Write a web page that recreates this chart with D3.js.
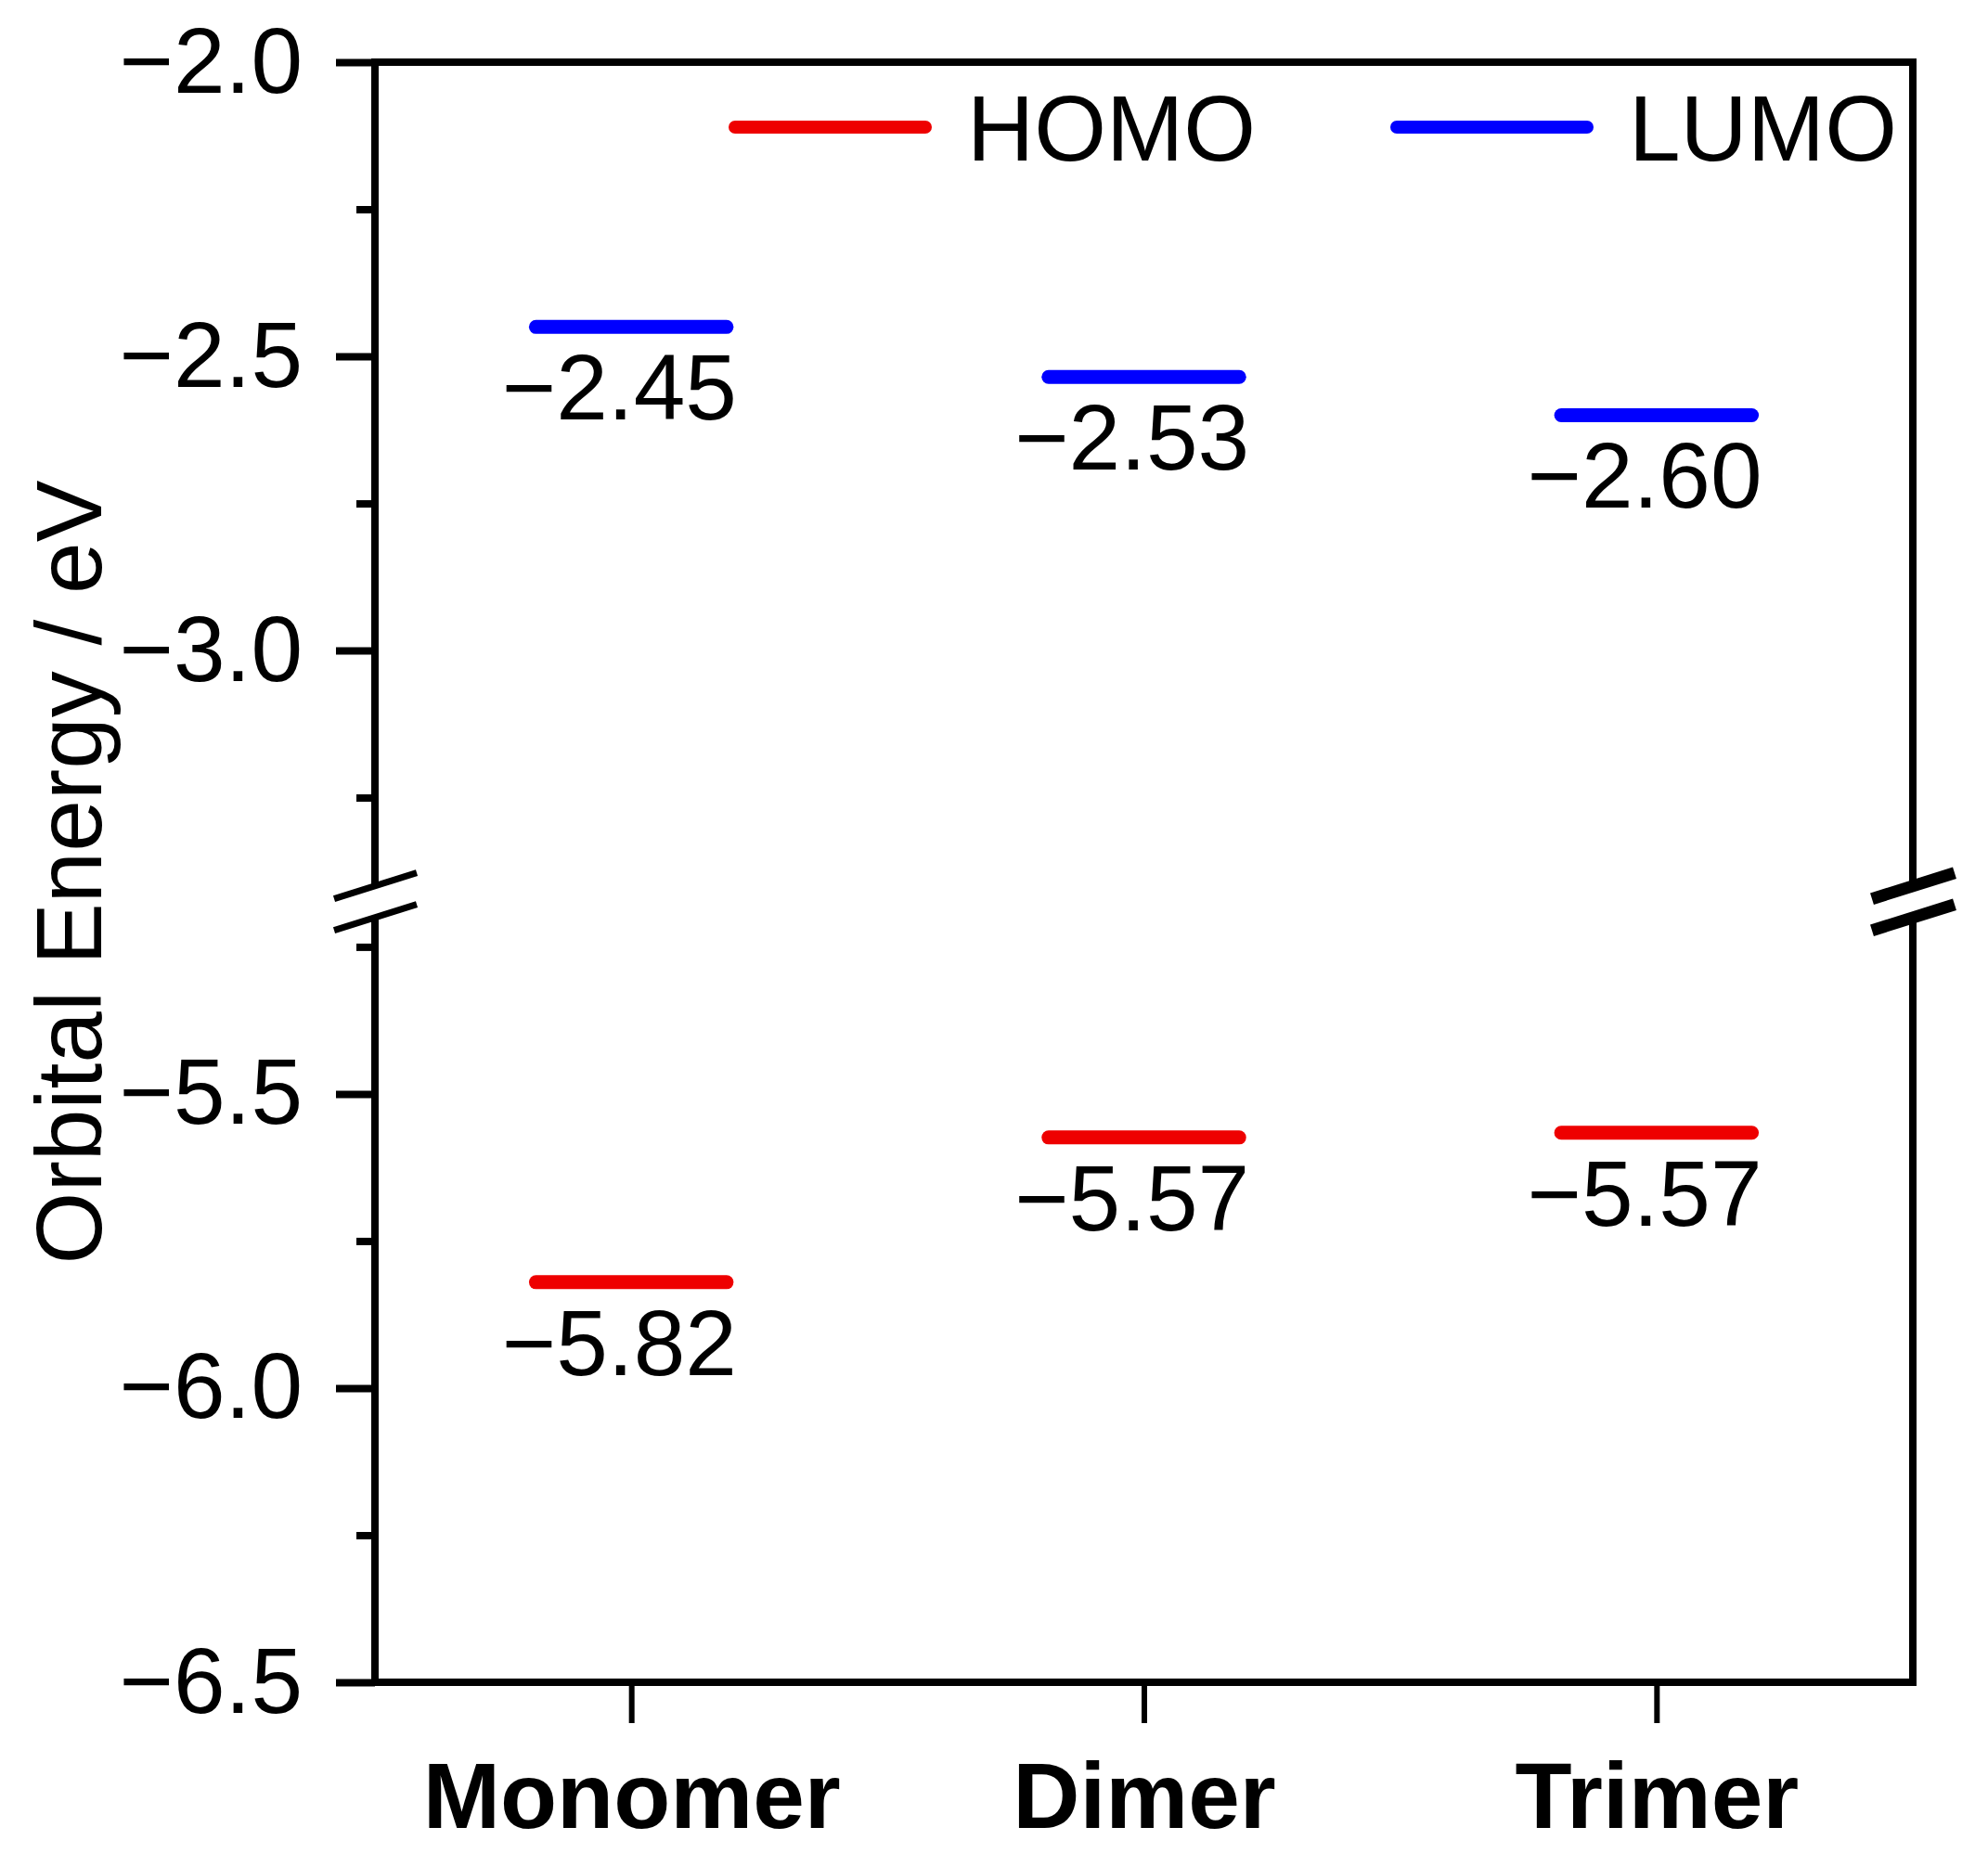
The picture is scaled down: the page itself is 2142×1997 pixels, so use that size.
<!DOCTYPE html>
<html><head><meta charset="utf-8">
<script src="https://cdn.jsdelivr.net/npm/d3@7"></script>
<style>
body{margin:0;background:#fff}
svg{display:block}
text{font-family:"Liberation Sans",Arial,Helvetica,sans-serif}
</style>
</head><body>
<svg id="chart" width="2142" height="1997"></svg>
<script>
// ---- data ----
const categories = ["Monomer", "Dimer", "Trimer"];
const homo = [-5.82, -5.574, -5.566];
const lumo = [-2.45, -2.535, -2.60];
const homoLabels = ["−5.82", "−5.57", "−5.57"];
const lumoLabels = ["−2.45", "−2.53", "−2.60"];
const seriesNames = ["HOMO", "LUMO"];
const seriesColors = ["#ee0000", "#0000ff"];
const upperDomain = [-3.4, -2.0];
const lowerDomain = [-6.5, -5.2];
const upperMajor = [-2.0, -2.5, -3.0];
const upperMinor = [-2.25, -2.75, -3.25];
const lowerMajor = [-5.5, -6.0, -6.5];
const lowerMinor = [-5.25, -5.75, -6.25];
const yTitle = "Orbital Energy / eV";

// ---- layout ----
const W = 2142, H = 1997;
const pLeft = 404, pRight = 2061, pTop = 67, pBottom = 1813, gap = 34;
const span = (upperDomain[1] - upperDomain[0]) + (lowerDomain[1] - lowerDomain[0]);
const unit = (pBottom - pTop - gap) / span;
const yU = d3.scaleLinear().domain(upperDomain).range([pTop + (upperDomain[1] - upperDomain[0]) * unit, pTop]);
const yL = d3.scaleLinear().domain(lowerDomain).range([pBottom, pBottom - (lowerDomain[1] - lowerDomain[0]) * unit]);
const y = v => v >= upperDomain[0] ? yU(v) : yL(v);
const x = d3.scalePoint().domain(categories).range([pLeft, pRight]).padding(0.5);
const step = x.step();
const halfLen = step * 0.186;

const svg = d3.select("#chart");
svg.append("rect").attr("width", W).attr("height", H).attr("fill", "#fff");

const fmt = d3.format(".1f");
const FS = 100;

function styleAxis(g, sw) {
  g.select(".domain").remove();
  g.selectAll(".tick line").attr("stroke", "#000").attr("stroke-width", sw);
  g.attr("font-family", null).attr("font-size", FS);
  g.selectAll(".tick text").attr("fill", "#000");
}

// y axes (major + minor), upper & lower segments
[[yU, upperMajor, upperMinor], [yL, lowerMajor, lowerMinor]].forEach(([sc, maj, mnr]) => {
  svg.append("g").attr("transform", `translate(${pLeft},0)`)
    .call(d3.axisLeft(sc).tickValues(mnr).tickSize(20).tickFormat(""))
    .call(g => styleAxis(g, 8));
  svg.append("g").attr("transform", `translate(${pLeft},0)`)
    .call(d3.axisLeft(sc).tickValues(maj).tickSize(42).tickPadding(36).tickFormat(fmt))
    .call(g => styleAxis(g, 8));
});

// x axis
svg.append("g").attr("transform", `translate(0,${pBottom})`)
  .call(d3.axisBottom(x).tickSize(44).tickPadding(42))
  .call(g => styleAxis(g, 6))
  .call(g => g.selectAll(".tick text").attr("font-weight", "bold"));

// frame with breaks
const yBrU = yU(upperDomain[0]), yBrL = yL(lowerDomain[1]);
const frame = svg.append("g").attr("fill", "none").attr("stroke", "#000").attr("stroke-width", 8).attr("stroke-linecap", "square");
frame.append("line").attr("x1", pLeft).attr("x2", pRight).attr("y1", pTop).attr("y2", pTop);
frame.append("line").attr("x1", pLeft).attr("x2", pRight).attr("y1", pBottom).attr("y2", pBottom);
[pLeft, pRight].forEach(xx => {
  frame.append("line").attr("x1", xx).attr("x2", xx).attr("y1", pTop).attr("y2", yBrU).attr("stroke-linecap", "butt");
  frame.append("line").attr("x1", xx).attr("x2", xx).attr("y1", yBrL).attr("y2", pBottom).attr("stroke-linecap", "butt");
});

// break marks
[[pLeft, 7], [pRight, 13]].forEach(([xx, sw]) => {
  [yBrU, yBrL].forEach(cy => {
    svg.append("line")
      .attr("x1", xx - 44).attr("y1", cy + 14)
      .attr("x2", xx + 45).attr("y2", cy - 14)
      .attr("stroke", "#000").attr("stroke-width", sw);
  });
});

// data levels
const series = [homo, lumo];
const seriesLabels = [homoLabels, lumoLabels];
series.forEach((vals, si) => {
  const g = svg.append("g");
  g.selectAll("line").data(vals).join("line")
    .attr("x1", (d, i) => x(categories[i]) - halfLen)
    .attr("x2", (d, i) => x(categories[i]) + halfLen)
    .attr("y1", d => y(d)).attr("y2", d => y(d))
    .attr("stroke", seriesColors[si]).attr("stroke-width", 15).attr("stroke-linecap", "round");
  g.selectAll("text").data(vals).join("text")
    .attr("x", (d, i) => x(categories[i]) + halfLen + 11)
    .attr("y", d => y(d) + 100)
    .attr("text-anchor", "end").attr("font-size", FS).attr("fill", "#000")
    .text((d, i) => seriesLabels[si][i]);
});

// legend
const legendX = [792, 1505];
seriesNames.forEach((name, i) => {
  svg.append("line").attr("x1", legendX[i]).attr("x2", legendX[i] + 205)
    .attr("y1", 137).attr("y2", 137)
    .attr("stroke", seriesColors[i]).attr("stroke-width", 14).attr("stroke-linecap", "round");
  svg.append("text").attr("x", legendX[i] + 250).attr("y", 173)
    .attr("font-size", FS).attr("fill", "#000").text(name);
});

// y title
svg.append("text")
  .attr("transform", `translate(109,${(pTop + pBottom) / 2}) rotate(-90)`)
  .attr("text-anchor", "middle").attr("font-size", FS).attr("fill", "#000")
  .text(yTitle);
</script>
</body></html>
